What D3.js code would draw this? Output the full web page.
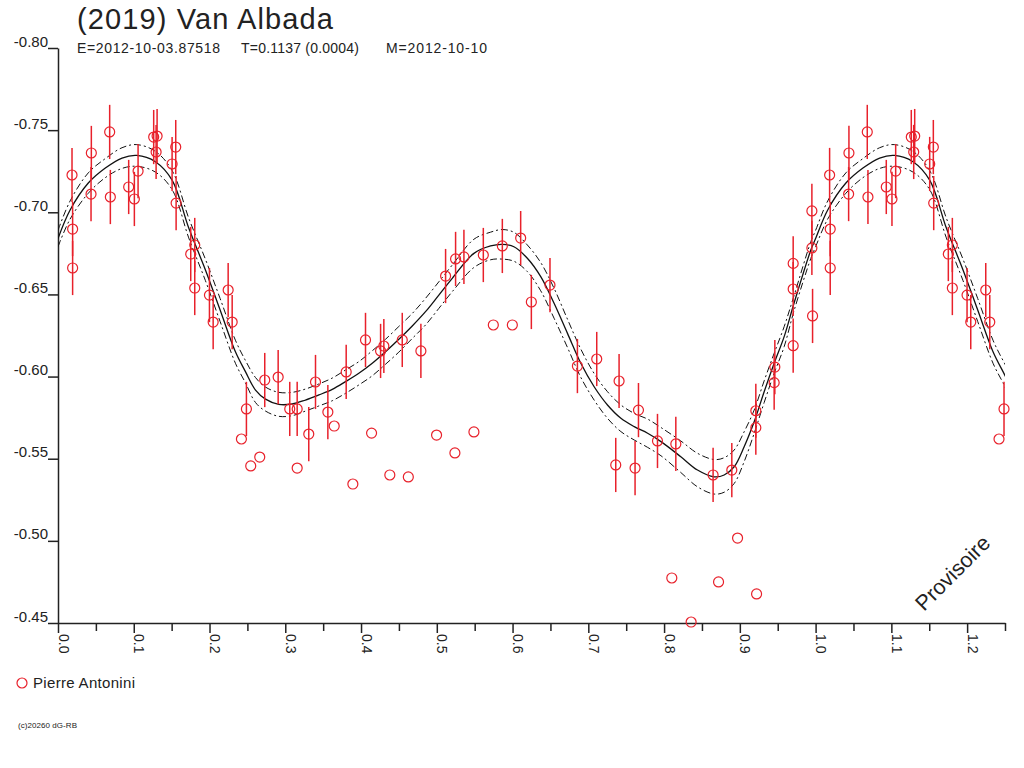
<!DOCTYPE html>
<html>
<head>
<meta charset="utf-8">
<script src="https://cdn.jsdelivr.net/npm/d3@7"></script>
<style>
  body { margin: 0; background: #fff; }
  svg { display: block; }
  text { font-family: "Liberation Sans", Arial, sans-serif; fill: #222; }
</style>
</head>
<body>
<div id="chart"></div>
<script>
const width = 1024, height = 768;

// observations: phase, magnitude, error (0 = no error bar)
const obsPhase = [0.0185, 0.0193, 0.0193, 0.0440, 0.0436, 0.0682, 0.0691, 0.0933, 0.1008, 0.1057,
    0.1263, 0.1308, 0.1295, 0.1506, 0.1554, 0.1559, 0.1752, 0.1805, 0.1805, 0.1999,
    0.2048, 0.2246, 0.2299, 0.2487, 0.2421, 0.2544, 0.2663, 0.2729, 0.2906, 0.3059,
    0.3157, 0.3157, 0.3310, 0.3399, 0.3562, 0.3646, 0.3804, 0.3892, 0.4059, 0.4139,
    0.4258, 0.4301, 0.4380, 0.4544, 0.4624, 0.4790, 0.4997, 0.5116, 0.5239, 0.5248,
    0.5358, 0.5490, 0.5614, 0.5746, 0.5865, 0.5997, 0.6107, 0.6248, 0.6494, 0.6856,
    0.7111, 0.7406, 0.7362, 0.7662, 0.7617, 0.7913, 0.8155, 0.8102, 0.8357, 0.8647,
    0.8719, 0.8894, 0.8970, 0.9221, 0.9211, 0.9211, 0.9462, 0.9453, 0.9704, 0.9704,
    0.9704, 0.9960, 0.9951, 0.9951];
const obsMag = [-0.7227, -0.6898, -0.6661, -0.7361, -0.7111, -0.7489, -0.7093, -0.7154, -0.7081, -0.7251,
    -0.7458, -0.7464, -0.7367, -0.7294, -0.7397, -0.7056, -0.6746, -0.6801, -0.6539, -0.6496,
    -0.6332, -0.6527, -0.6332, -0.5803, -0.5620, -0.5456, -0.5510, -0.5979, -0.5997, -0.5803,
    -0.5803, -0.5443, -0.5650, -0.5967, -0.5784, -0.5699, -0.6028, -0.5346, -0.6223, -0.5656,
    -0.6156, -0.6186, -0.5401, -0.6223, -0.5389, -0.6156, -0.5644, -0.6612, -0.5535, -0.6716,
    -0.6728, -0.5663, -0.6740, -0.6314, -0.6795, -0.6314, -0.6843, -0.6454, -0.6557, -0.6064,
    -0.6107, -0.5973, -0.5462, -0.5796, -0.5443, -0.5608, -0.5590, -0.4774, -0.4506, -0.5401,
    -0.4750, -0.5431, -0.5017, -0.4677, -0.5792, -0.5689, -0.6058, -0.5963, -0.6188, -0.6689,
    -0.6533, -0.6369, -0.7008, -0.6783];
const obsErr = [0.0165, 0.0165, 0.0165, 0.0165, 0.0165, 0.0165, 0.0165, 0.0165, 0.0165, 0.0165,
    0.0165, 0.0165, 0.0165, 0.0165, 0.0165, 0.0165, 0.0165, 0.0165, 0.0165, 0.0165,
    0.0165, 0.0165, 0.0165, 0.0165, 0, 0, 0, 0.0165, 0.0165, 0.0165,
    0.0165, 0, 0.0165, 0.0165, 0.0165, 0, 0.0165, 0, 0.0165, 0,
    0.0165, 0.0165, 0, 0.0165, 0, 0.0165, 0, 0.0165, 0, 0.0165,
    0.0165, 0, 0.0165, 0, 0.0165, 0, 0.0165, 0.0165, 0.0165, 0.0165,
    0.0165, 0.0165, 0.0165, 0.0165, 0.0165, 0.0165, 0.0165, 0, 0, 0.0165,
    0, 0.0165, 0, 0, 0.0165, 0.0165, 0.0165, 0.0165, 0.0165, 0.0165,
    0.0165, 0.0165, 0.0165, 0.0165];

// fitted light curve (one cycle), with its envelope half-width
const fitPhase = [0.000, 0.016, 0.040, 0.0625, 0.0845, 0.104, 0.1285, 0.1506, 0.1726, 0.1946,
    0.214, 0.2342, 0.2474, 0.2607, 0.2739, 0.2914, 0.3091, 0.3266, 0.3443, 0.3620,
    0.3795, 0.3971, 0.4148, 0.4323, 0.4499, 0.4676, 0.4851, 0.5027, 0.5204, 0.5490,
    0.5710, 0.5865, 0.6018, 0.6195, 0.6372, 0.6548, 0.6725, 0.6901, 0.7077, 0.7253,
    0.7430, 0.7606, 0.7783, 0.7959, 0.8221, 0.8441, 0.8661, 0.8793, 0.8925, 0.9057,
    0.9189, 0.9321, 0.9453, 0.9585, 0.9715, 0.9937];
const fitMag = [-0.6840, -0.7014, -0.7178, -0.7269, -0.7330, -0.7346, -0.7308, -0.7196, -0.6904, -0.6649,
    -0.6405, -0.6151, -0.6030, -0.5918, -0.5863, -0.5831, -0.5833, -0.5857, -0.5888, -0.5922,
    -0.5969, -0.6020, -0.6081, -0.6151, -0.6227, -0.6308, -0.6395, -0.6496, -0.6598, -0.6750,
    -0.6795, -0.6805, -0.6790, -0.6720, -0.6608, -0.6446, -0.6263, -0.6081, -0.5938, -0.5827,
    -0.5746, -0.5695, -0.5655, -0.5604, -0.5512, -0.5431, -0.5390, -0.5401, -0.5451, -0.5573,
    -0.5725, -0.5908, -0.6081, -0.6243, -0.6446, -0.6770];
const fitSigma = [0.0050, 0.0055, 0.0062, 0.0058, 0.0063, 0.0066, 0.0063, 0.0058, 0.0060, 0.0065,
    0.0070, 0.0070, 0.0068, 0.0076, 0.0073, 0.0073, 0.0071, 0.0067, 0.0067, 0.0069,
    0.0071, 0.0071, 0.0076, 0.0076, 0.0078, 0.0076, 0.0081, 0.0081, 0.0081, 0.0086,
    0.0084, 0.0090, 0.0088, 0.0081, 0.0086, 0.0091, 0.0086, 0.0086, 0.0081, 0.0081,
    0.0081, 0.0081, 0.0086, 0.0086, 0.0096, 0.0102, 0.0105, 0.0105, 0.0102, 0.0091,
    0.0071, 0.0066, 0.0061, 0.0061, 0.0046, 0.0051];

const yTicks = [-0.80, -0.75, -0.70, -0.65, -0.60, -0.55, -0.50, -0.45];
const xTicks = [0, 0.05, 0.1, 0.15, 0.2, 0.25, 0.3, 0.35, 0.4, 0.45, 0.5, 0.55, 0.6,
    0.65, 0.7, 0.75, 0.8, 0.85, 0.9, 0.95, 1.0, 1.05, 1.1, 1.15, 1.2, 1.25];
const xLabels = ["0.0", "", "0.1", "", "0.2", "", "0.3", "", "0.4", "", "0.5", "", "0.6",
    "", "0.7", "", "0.8", "", "0.9", "", "1.0", "", "1.1", "", "1.2", ""];

const titleText = "(2019) Van Albada";
const subTexts = ["E=2012-10-03.87518", "T=0.1137 (0.0004)", "M=2012-10-10"];
const observer = "Pierre Antonini";
const maxPhase = 1.25;

const red = "#e8212b";

const svg = d3.select("#chart").append("svg")
    .attr("width", width)
    .attr("height", height);

const x = d3.scaleLinear().domain([0, maxPhase]).range([58, 1005]);
const y = d3.scaleLinear().domain([-0.45, -0.80]).range([623, 48]);

svg.append("clipPath").attr("id", "plot-clip")
    .append("rect")
    .attr("x", x(0)).attr("y", y(-0.80))
    .attr("width", x(maxPhase) - x(0)).attr("height", y(-0.45) - y(-0.80));

// build points over 0..1.25 (phases < 0.25 repeated)
let obs = obsPhase.map((p, i) => ({p: p, m: obsMag[i], e: obsErr[i]}));
obs = obs.concat(obs.filter(d => d.p + 1 <= maxPhase).map(d => ({p: d.p + 1, m: d.m, e: d.e})));

let fit = fitPhase.map((p, i) => ({p: p, m: fitMag[i], s: fitSigma[i]}));
fit = fit.concat(fit.filter(d => d.p + 1 <= maxPhase + 0.03).map(d => ({p: d.p + 1, m: d.m, s: d.s})));

// axes
const xAxis = svg.append("g")
    .attr("transform", `translate(0,${y(-0.45)})`)
    .call(d3.axisBottom(x).tickValues(xTicks).tickSize(10).tickSizeOuter(0)
        .tickFormat((d, i) => xLabels[i]));
xAxis.selectAll(".tick line")
    .attr("y2", (d, i) => xLabels[i] === "" ? 8 : 10);
xAxis.selectAll(".tick text")
    .attr("x", 0).attr("y", 0).attr("dy", 0)
    .attr("transform", "translate(0,11) rotate(90)")
    .attr("text-anchor", "start")
    .style("font-size", "14px");

const yAxis = svg.append("g")
    .attr("transform", `translate(${x(0)},0)`)
    .call(d3.axisLeft(y).tickValues(yTicks).tickSize(10).tickSizeOuter(0)
        .tickFormat(d => d.toFixed(2)));
yAxis.selectAll(".tick text")
    .attr("x", -10).attr("dy", 0).attr("y", -2)
    .style("font-size", "15px");

svg.selectAll(".domain, .tick line")
    .attr("stroke", "#222")
    .attr("stroke-width", 1.5);
svg.selectAll(".tick text").attr("fill", "#222").attr("font-family", null);

// fitted curve + envelope
const plot = svg.append("g").attr("clip-path", "url(#plot-clip)");
const line = d3.line().curve(d3.curveCatmullRom.alpha(0.5)).x(d => x(d.p));

plot.append("path").datum(fit)
    .attr("fill", "none").attr("stroke", "#111").attr("stroke-width", 1)
    .attr("stroke-dasharray", "7,3,2,3")
    .attr("d", line.y(d => y(d.m - d.s)));
plot.append("path").datum(fit)
    .attr("fill", "none").attr("stroke", "#111").attr("stroke-width", 1)
    .attr("stroke-dasharray", "7,3,2,3")
    .attr("d", line.y(d => y(d.m + d.s)));
plot.append("path").datum(fit)
    .attr("fill", "none").attr("stroke", "#111").attr("stroke-width", 1.3)
    .attr("d", line.y(d => y(d.m)));

// error bars and points
plot.append("g").selectAll("line")
    .data(obs.filter(d => d.e > 0))
    .enter().append("line")
    .attr("x1", d => x(d.p)).attr("x2", d => x(d.p))
    .attr("y1", d => y(d.m - d.e)).attr("y2", d => y(d.m + d.e))
    .attr("stroke", red).attr("stroke-width", 1.5);

svg.append("g").selectAll("circle")
    .data(obs)
    .enter().append("circle")
    .attr("cx", d => x(d.p)).attr("cy", d => y(d.m))
    .attr("r", 5)
    .attr("fill", "none").attr("stroke", red).attr("stroke-width", 1.2);

// titles
svg.append("text")
    .attr("x", 77).attr("y", 29)
    .attr("textLength", 256)
    .style("font-size", "29px")
    .text(titleText);

const subX = [77, 241, 386];
const subLen = [143, 118, 101];
svg.append("g").selectAll("text")
    .data(subTexts)
    .enter().append("text")
    .attr("x", (d, i) => subX[i]).attr("y", 53)
    .attr("textLength", (d, i) => subLen[i])
    .style("font-size", "14px")
    .text(d => d);

svg.append("text")
    .attr("transform", "translate(924,612) rotate(-45)")
    .style("font-size", "21.5px")
    .text("Provisoire");

// legend
svg.append("circle")
    .attr("cx", 22).attr("cy", 683).attr("r", 5)
    .attr("fill", "none").attr("stroke", red).attr("stroke-width", 1.2);
svg.append("text")
    .attr("x", 33).attr("y", 688)
    .attr("textLength", 102)
    .style("font-size", "15px")
    .text(observer);

svg.append("text")
    .attr("x", 18).attr("y", 728)
    .attr("textLength", 59)
    .style("font-size", "8px")
    .text("(c)20260 dG-RB");
</script>
</body>
</html>
